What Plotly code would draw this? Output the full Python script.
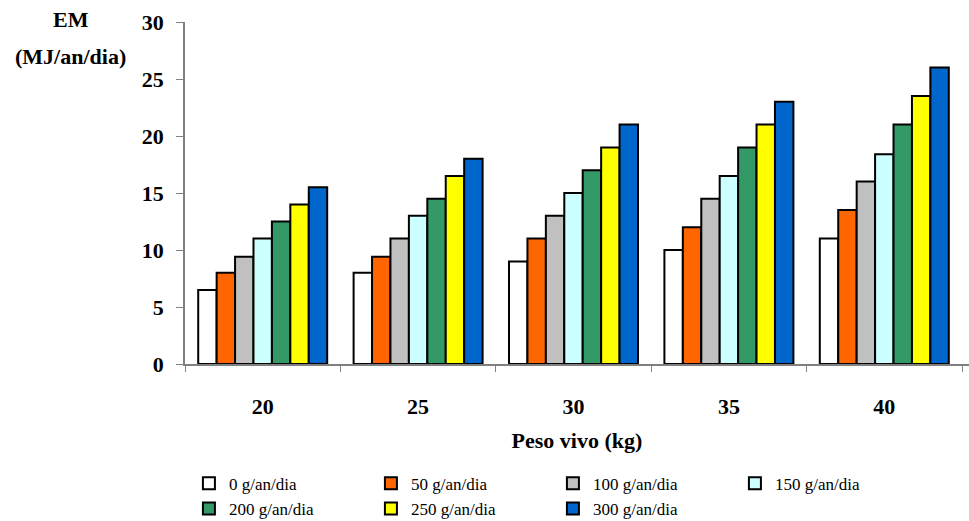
import plotly.graph_objects as go

categories = ["20", "25", "30", "35", "40"]
series_names = ["0 g/an/dia", "50 g/an/dia", "100 g/an/dia", "150 g/an/dia",
                "200 g/an/dia", "250 g/an/dia", "300 g/an/dia"]
values = {
    "0 g/an/dia":   [6.5, 8.0, 9.0, 10.0, 11.0],
    "50 g/an/dia":  [8.0, 9.4, 11.0, 12.0, 13.5],
    "100 g/an/dia": [9.4, 11.0, 13.0, 14.5, 16.0],
    "150 g/an/dia": [11.0, 13.0, 15.0, 16.5, 18.4],
    "200 g/an/dia": [12.5, 14.5, 17.0, 19.0, 21.0],
    "250 g/an/dia": [14.0, 16.5, 19.0, 21.0, 23.5],
    "300 g/an/dia": [15.5, 18.0, 21.0, 23.0, 26.0],
}
colors = ["#FFFFFF", "#FF6600", "#C0C0C0", "#CCFFFF", "#339966", "#FFFF00", "#0066CC"]

fig = go.Figure()
for name, col in zip(series_names, colors):
    fig.add_trace(go.Bar(
        x=categories, y=values[name], name=name,
        marker=dict(color=col, line=dict(color="#000000", width=2)),
    ))

serif = "Times New Roman, Liberation Serif, DejaVu Serif, serif"
fig.update_layout(
    width=969, height=521,
    margin=dict(l=185, r=0, t=22, b=157, autoexpand=False),
    plot_bgcolor="white", paper_bgcolor="white",
    barmode="group", bargap=0.17, bargroupgap=0,
    font=dict(family=serif, color="black"),
    showlegend=True,
    legend=dict(
        orientation="h", x=0.005, xanchor="left",
        yref="container", y=0.106, yanchor="top",
        font=dict(family=serif, size=17, color="black"),
        entrywidth=137, entrywidthmode="pixels",
        itemwidth=30, tracegroupgap=0,
        traceorder="normal",
    ),
    xaxis=dict(
        type="category", range=[-0.5, 4.545],
        showline=True, linecolor="#808080", linewidth=1.5,
        ticks="outside", tickson="boundaries", ticklen=6, tickcolor="#808080",
        tickfont=dict(family=serif, size=22, color="black", weight="bold"),
        ticklabelstandoff=22,
        showgrid=False, zeroline=False,
        title=dict(text="<b>Peso vivo (kg)</b>", font=dict(family=serif, size=22, color="black"), standoff=14),
    ),
    yaxis=dict(
        range=[0, 30], dtick=5, tick0=0,
        showline=True, linecolor="#808080", linewidth=1.5,
        ticks="outside", ticklen=7, tickcolor="#808080",
        tickfont=dict(family=serif, size=22, color="black", weight="bold"),
        showgrid=False, zeroline=False, ticklabelstandoff=8,
    ),
    annotations=[
        dict(text="<b>EM</b>", xref="paper", yref="paper", x=-0.146, y=1.006,
             xanchor="center", yanchor="middle", showarrow=False,
             font=dict(family=serif, size=22, color="black")),
        dict(text="<b>(MJ/an/dia)</b>", xref="paper", yref="paper", x=-0.146, y=0.898,
             xanchor="center", yanchor="middle", showarrow=False,
             font=dict(family=serif, size=22, color="black")),
    ],
)
fig.write_html("out.html")
